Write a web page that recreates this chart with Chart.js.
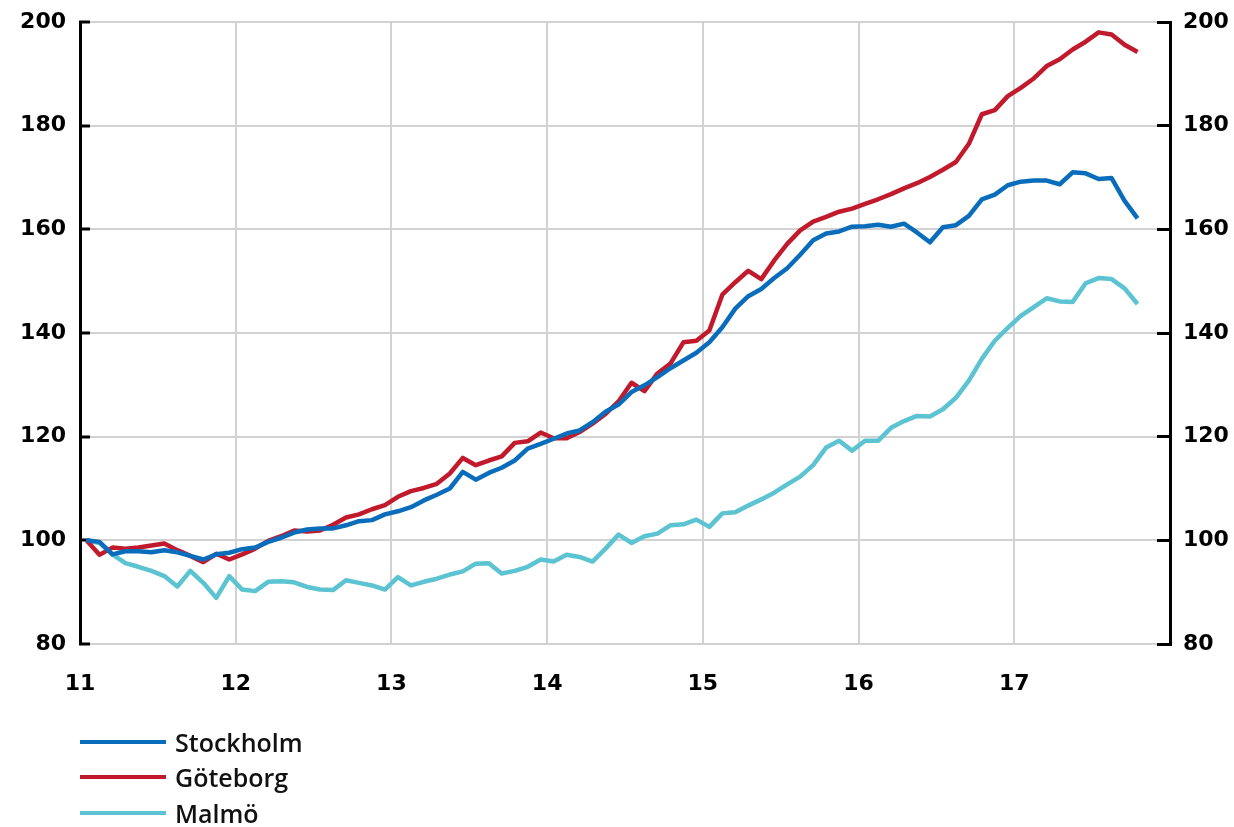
<!DOCTYPE html>
<html><head><meta charset="utf-8">
<script src="https://cdn.jsdelivr.net/npm/chart.js@4.4.1/dist/chart.umd.min.js"></script>
<style>
html,body{margin:0;padding:0;background:#fff;}
#wrap{position:relative;width:1234px;height:827px;}
#legend{position:absolute;left:80px;top:724px;font-family:"Open Sans",sans-serif;font-weight:600;font-size:25px;color:#111;}
.row{display:flex;align-items:center;height:35.5px;}
.sw{width:86px;height:4px;margin-right:9px;}
</style></head>
<body><div id="wrap"><canvas id="c" width="1234" height="827"></canvas><div id="legend"></div></div>
<script>
// Monthly index (Jan 2011 = 100), Jan 2011 .. Oct 2017
const startYear = 11;
const seriesNames = ['Stockholm', 'Göteborg', 'Malmö'];
const seriesColors = ['#0A6DBC', '#C01A2C', '#5BC3D1'];
const xTickLabels = ['11', '12', '13', '14', '15', '16', '17'];
const stockholm = [100,99.7,97.3,97.9,97.9,97.7,98.1,97.7,97.0,96.3,97.3,97.6,
  98.3,98.6,99.7,100.5,101.5,102.1,102.3,102.3,102.9,103.7,103.9,105.0,
  105.6,106.4,107.7,108.8,110.0,113.2,111.7,113.0,114.0,115.4,117.7,118.6,
  119.6,120.6,121.2,122.8,124.8,126.2,128.6,129.9,131.5,133.2,134.7,136.2,
  138.2,141.1,144.7,147.1,148.5,150.6,152.5,155.1,157.9,159.2,159.6,160.5,
  160.6,160.9,160.5,161.1,159.4,157.5,160.4,160.8,162.6,165.8,166.7,168.5,
  169.2,169.4,169.4,168.7,171.0,170.8,169.7,169.9,165.5,162.1];
const goteborg = [100,97.2,98.6,98.4,98.6,99.0,99.4,98.1,97.0,95.8,97.4,96.3,
  97.3,98.4,99.9,100.8,101.9,101.7,101.9,103.0,104.4,105.0,106.0,106.8,
  108.4,109.5,110.1,110.9,112.9,115.9,114.5,115.4,116.2,118.8,119.1,120.8,
  119.7,119.7,120.9,122.5,124.4,126.8,130.4,128.8,132.2,134.1,138.2,138.5,
  140.5,147.4,149.8,152.0,150.4,154.0,157.2,159.8,161.5,162.4,163.4,164.0,
  164.9,165.8,166.8,167.9,168.9,170.1,171.5,173.0,176.5,182.2,183.0,185.7,
  187.3,189.1,191.5,192.8,194.7,196.2,198.0,197.6,195.6,194.2];
const malmo = [100,99.5,97.3,95.6,94.9,94.1,93.1,91.1,94.1,91.8,88.9,93.1,
  90.5,90.2,92.0,92.1,91.9,91.0,90.5,90.4,92.3,91.8,91.3,90.5,
  92.9,91.3,92.0,92.6,93.4,94.0,95.5,95.6,93.6,94.1,94.9,96.3,
  95.9,97.2,96.8,95.9,98.4,101.1,99.5,100.8,101.3,102.9,103.1,104.0,
  102.6,105.2,105.4,106.7,107.9,109.2,110.8,112.3,114.5,117.9,119.2,117.3,
  119.2,119.2,121.7,123.0,124.0,123.9,125.3,127.5,130.8,135.0,138.5,141.0,
  143.3,145.0,146.7,146.1,146.0,149.6,150.6,150.4,148.6,145.6];
const seriesValues = [stockholm, goteborg, malmo];

// each monthly value sits at mid-month on a year axis
const toPoints = arr => arr.map((v, i) => ({x: startYear + (i + 0.5) / 12, y: v}));

const tickFont = {family: '"DejaVu Sans", sans-serif', weight: 'bold', size: 22};

const datasets = seriesNames.map((n, k) => ({
  label: n, data: toPoints(seriesValues[k]), borderColor: seriesColors[k],
  backgroundColor: seriesColors[k], borderWidth: 4.5, pointRadius: 0,
  tension: 0, fill: false, borderJoinStyle: 'round', yAxisID: 'y'
}));

new Chart(document.getElementById('c'), {
  type: 'line',
  data: {datasets},
  options: {
    responsive: false, animation: false, devicePixelRatio: 1,
    layout: {padding: {top: 22, bottom: 123, left: 0, right: 0}},
    plugins: {legend: {display: false}, tooltip: {enabled: false}},
    scales: {
      x: {
        type: 'linear', min: 11, max: 18,
        ticks: {stepSize: 1, font: tickFont, color: '#000', padding: 27, maxRotation: 0,
          callback: v => xTickLabels.includes(String(v)) ? String(v) : ''},
        grid: {color: '#d2d2d2', lineWidth: 2, drawTicks: false},
        border: {display: false},
        afterFit(s) { s.height = 60; s.paddingLeft = 0; s.paddingRight = 0; }
      },
      y: {
        position: 'left', min: 80, max: 200,
        ticks: {stepSize: 20, font: tickFont, color: '#000', padding: 24},
        grid: {color: '#d2d2d2', lineWidth: 2, tickLength: -10, tickColor: '#000', tickWidth: 3},
        border: {color: '#000', width: 3},
        afterFit(s) { s.width = 80; s.paddingTop = 0; s.paddingBottom = 0; }
      },
      y2: {
        position: 'right', min: 80, max: 200,
        ticks: {stepSize: 20, font: tickFont, color: '#000', padding: 26},
        grid: {drawOnChartArea: false, tickLength: -13, tickColor: '#000', tickWidth: 3},
        border: {color: '#000', width: 3},
        afterFit(s) { s.width = 64; s.paddingTop = 0; s.paddingBottom = 0; }
      }
    }
  }
});

const lg = document.getElementById('legend');
seriesNames.forEach((n, k) => {
  const r = document.createElement('div'); r.className = 'row';
  const sw = document.createElement('div'); sw.className = 'sw'; sw.style.background = seriesColors[k];
  const t = document.createElement('span'); t.textContent = n;
  r.appendChild(sw); r.appendChild(t); lg.appendChild(r);
});
</script>
</body></html>
